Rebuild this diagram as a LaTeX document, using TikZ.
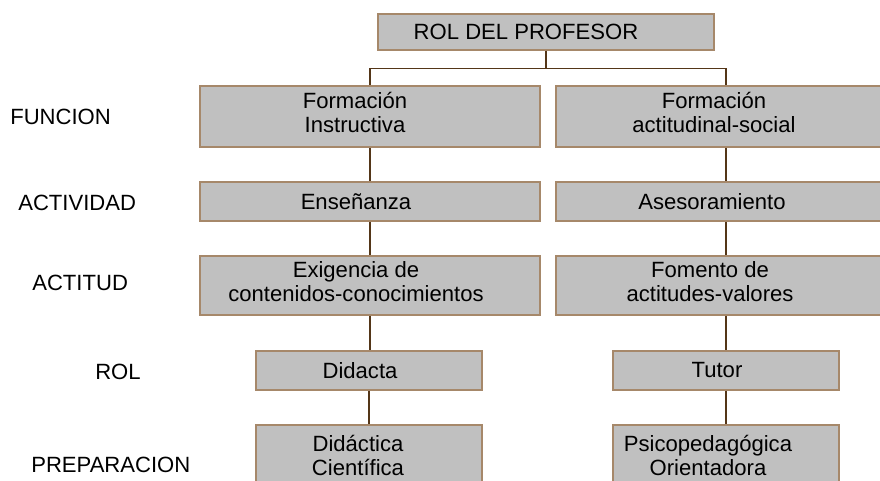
\documentclass[tikz,border=0pt]{standalone}
\usepackage{fontspec}
\setmainfont{Liberation Sans}
\usetikzlibrary{positioning}

\definecolor{boxfill}{RGB}{192,192,192}
\definecolor{boxline}{RGB}{166,136,106}
\definecolor{linkline}{RGB}{84,54,24}

\tikzset{
  box/.style={draw=boxline, fill=boxfill, line width=1.1pt, inner sep=0pt},
  txt/.style={align=center, inner sep=0pt, font=\fontsize{15.7}{17.5}\selectfont},
  lbl/.style={anchor=west, inner sep=0pt, font=\fontsize{15.7}{17.5}\selectfont},
  link/.style={draw=linkline, line width=1pt}
}

\begin{document}
\begin{tikzpicture}[x=0.025cm, y=-0.025cm]
\useasboundingbox (0,0) rectangle (880,480);
\clip (0,0) rectangle (880,480);

\node[box, minimum width=8.4cm, minimum height=0.9cm] (prof) at (546,32) {};
\node[txt] (proft) at ([xshift=-0.5cm]prof.center) {ROL DEL PROFESOR};

\node[box, minimum width=8.5cm, minimum height=1.525cm] (fun1) at (370,116.5) {};
\node[box, minimum width=8.5cm, minimum height=1.525cm] (fun2) at (726,116.5) {};
\node[box, minimum width=8.5cm, minimum height=0.975cm] (act1) at (370,201.5) {};
\node[box, minimum width=8.5cm, minimum height=0.975cm] (act2) at (726,201.5) {};
\node[box, minimum width=8.5cm, minimum height=1.475cm] (att1) at (370,285.5) {};
\node[box, minimum width=8.5cm, minimum height=1.475cm] (att2) at (726,285.5) {};
\node[box, minimum width=5.65cm, minimum height=0.975cm] (rol1) at (369,370.5) {};
\node[box, minimum width=5.65cm, minimum height=0.975cm] (rol2) at (726,370.5) {};
\node[box, minimum width=5.65cm, minimum height=1.525cm] (pre1) at (369,455.5) {};
\node[box, minimum width=5.65cm, minimum height=1.525cm] (pre2) at (726,455.5) {};

\node[txt] (fun1t) at ([xshift=-0.375cm,yshift=0.1cm]fun1.center) {Formación\\Instructiva};
\node[txt] (fun2t) at ([xshift=-0.3cm,yshift=0.1cm]fun2.center) {Formación\\actitudinal-social};
\node[txt] (act1t) at ([xshift=-0.35cm]act1.center) {Enseñanza};
\node[txt] (act2t) at ([xshift=-0.35cm]act2.center) {Asesoramiento};
\node[txt] (att1t) at ([xshift=-0.35cm,yshift=0.1cm]att1.center) {Exigencia de\\contenidos-conocimientos};
\node[txt] (att2t) at ([xshift=-0.4cm,yshift=0.1cm]att2.center) {Fomento de\\actitudes-valores};
\node[txt] (rol1t) at ([xshift=-0.225cm]rol1.center) {Didacta};
\node[txt] (rol2t) at ([xshift=-0.225cm]rol2.center) {Tutor};
\node[txt] (pre1t) at ([xshift=-0.275cm]pre1.center) {Didáctica\\Científica};
\node[txt] (pre2t) at ([xshift=-0.45cm]pre2.center) {Psicopedagógica\\Orientadora};

\node[lbl] (funcion) at (10,117) {FUNCION};
\node[lbl] (actividad) at (18,203) {ACTIVIDAD};
\node[lbl] (actitud) at (32,283) {ACTITUD};
\node[lbl] (rol) at (95,372) {ROL};
\node[lbl] (preparacion) at (31,465) {PREPARACION};

\draw[link] (prof.south) -- ++(0,18) -| (fun1.north);
\draw[link] (prof.south) -- ++(0,18) -| (fun2.north);
\draw[link] (fun1) -- (act1) (act1) -- (att1) (att1) -- (rol1.north -| att1) (rol1) -- (pre1);
\draw[link] (fun2) -- (act2) (act2) -- (att2) (att2) -- (rol2) (rol2) -- (pre2);
\end{tikzpicture}
\end{document}
